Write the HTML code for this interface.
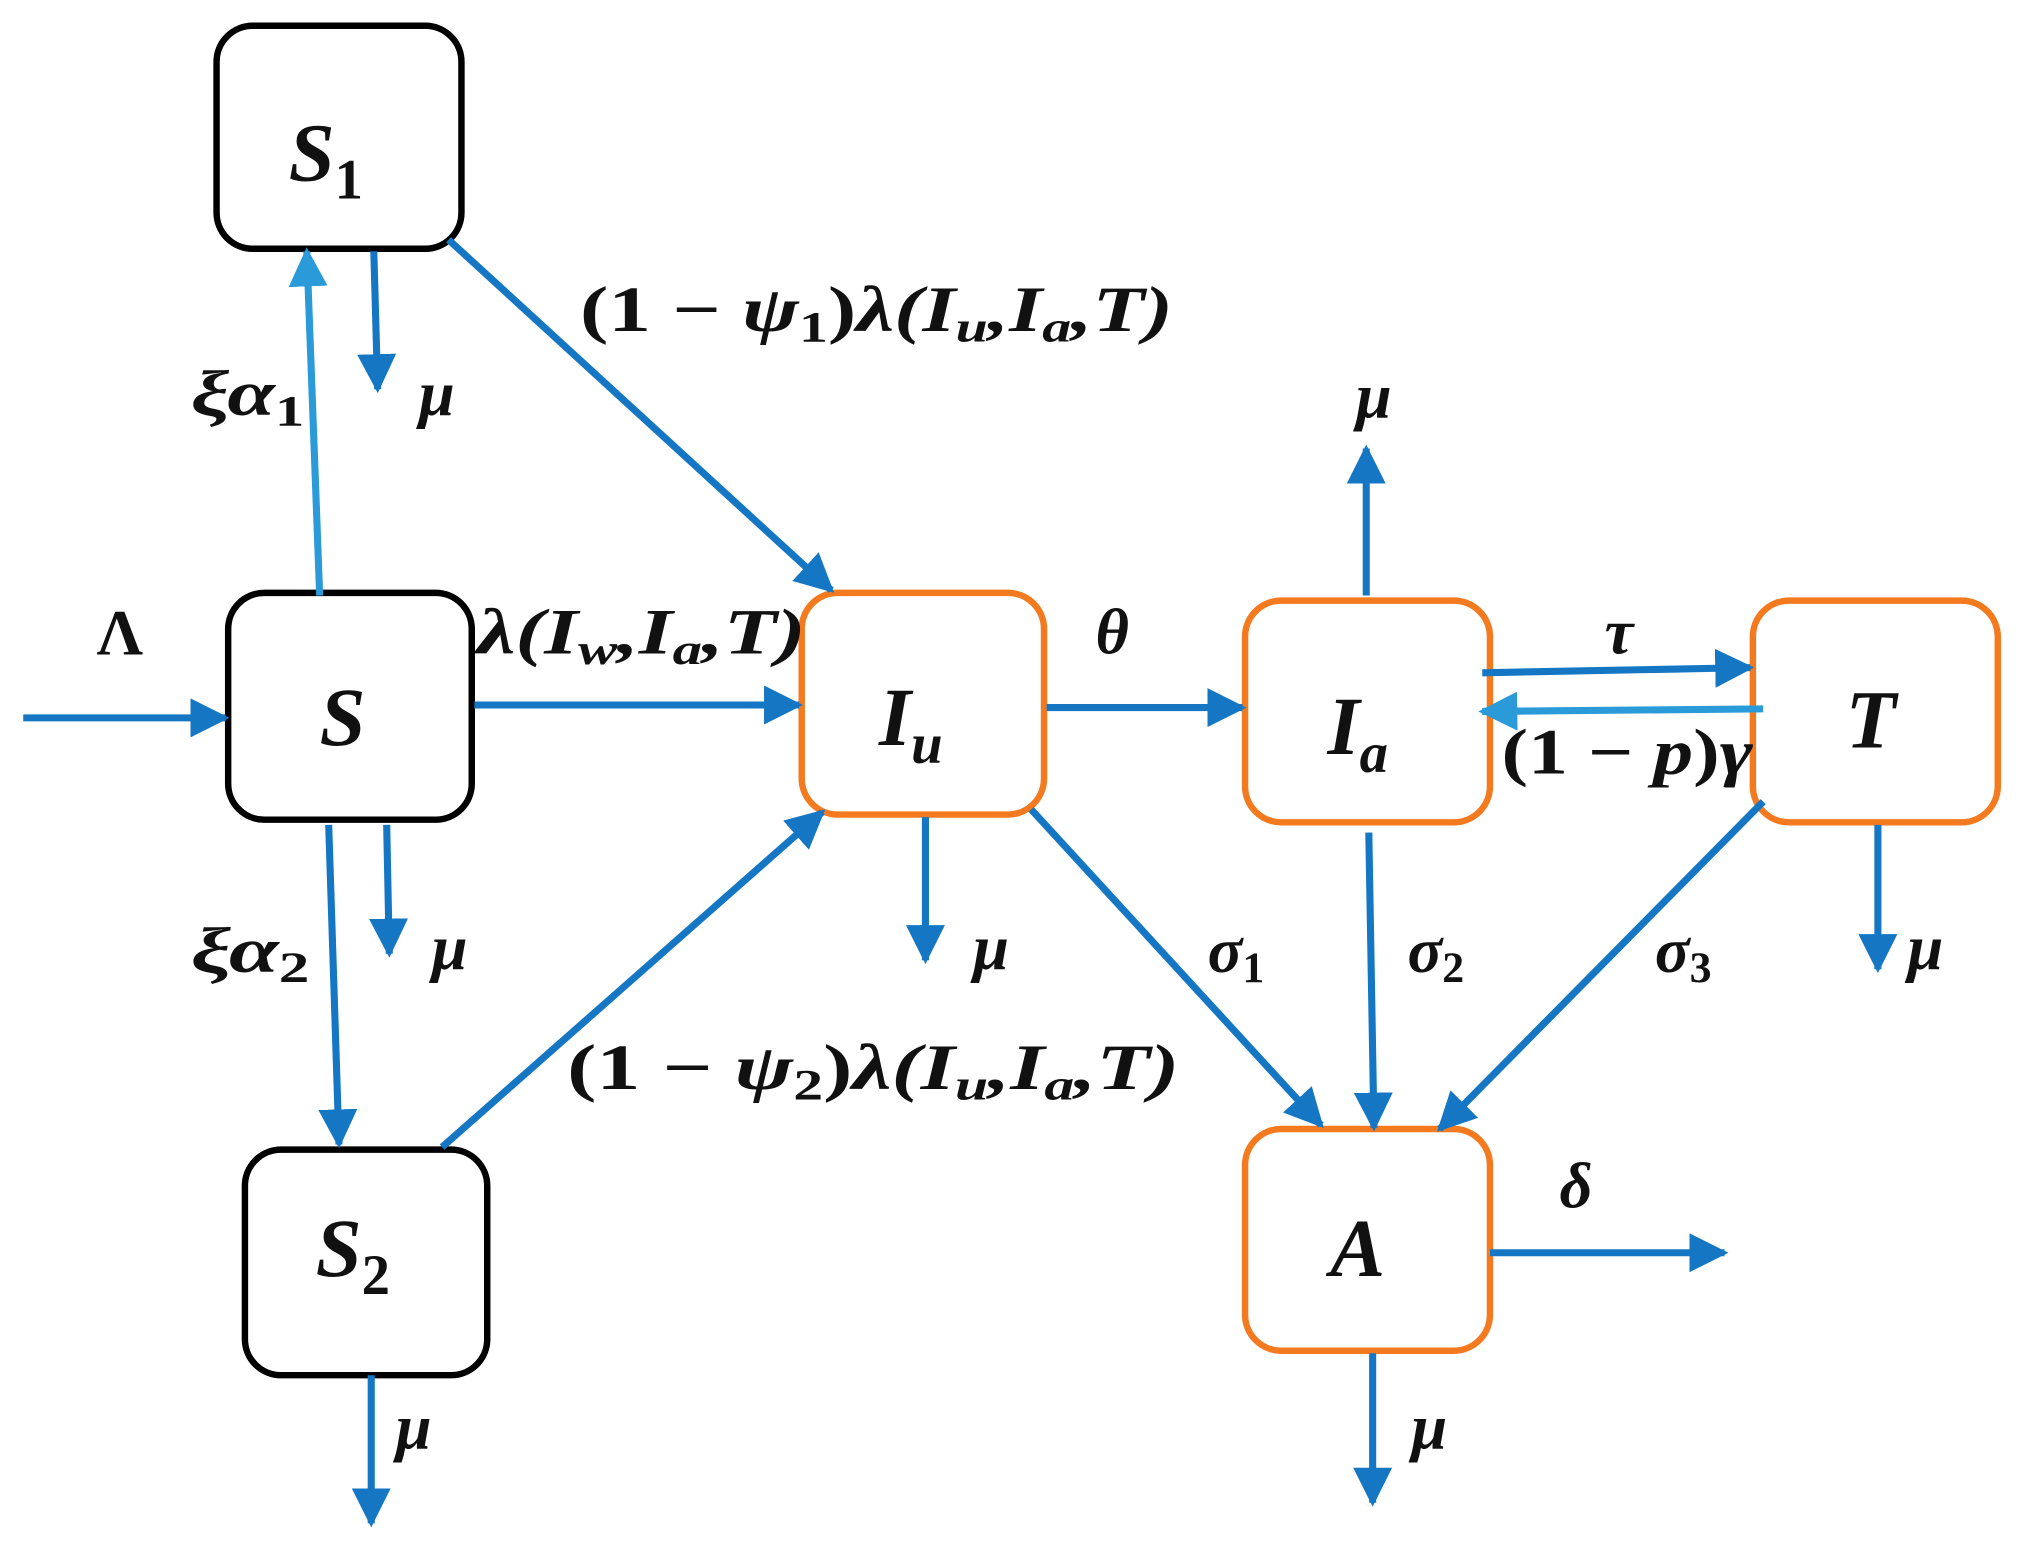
<!DOCTYPE html>
<html><head><meta charset="utf-8"><style>
html,body{margin:0;padding:0;background:#fff;}
svg{display:block;}
text{font-family:"Liberation Serif","DejaVu Serif",serif;font-weight:bold;font-style:italic;fill:#111;}
.n{font-style:normal;}
</style></head><body>
<svg width="2021" height="1555" viewBox="0 0 1568 1206.5" xmlns="http://www.w3.org/2000/svg">
<defs>
<marker id="a" viewBox="0 0 10 10" refX="9" refY="5" markerWidth="5.5" markerHeight="5.5" orient="auto" markerUnits="strokeWidth"><path d="M0,0 L10,5 L0,10 z" fill="#1577c4"/></marker>
<marker id="b" viewBox="0 0 10 10" refX="9" refY="5" markerWidth="5.5" markerHeight="5.5" orient="auto" markerUnits="strokeWidth"><path d="M0,0 L10,5 L0,10 z" fill="#2a9ad8"/></marker>
</defs>
<g fill="none" stroke-width="5">
<rect x="168" y="20" width="190" height="173" rx="28" stroke="#000"/>
<rect x="177" y="460" width="189" height="176" rx="28" stroke="#000"/>
<rect x="190" y="892" width="188" height="175" rx="28" stroke="#000"/>
<rect x="622" y="460" width="188" height="172" rx="28" stroke="#f47a20"/>
<rect x="966" y="466" width="190" height="172" rx="28" stroke="#f47a20"/>
<rect x="1360" y="466" width="190" height="172" rx="28" stroke="#f47a20"/>
<rect x="966" y="876" width="190" height="172" rx="28" stroke="#f47a20"/>
</g>
<g stroke="#1577c4" stroke-width="5.5" fill="none" marker-end="url(#a)">
<line x1="18" y1="557" x2="175" y2="557"/>
<line x1="368" y1="547" x2="620" y2="547"/>
<line x1="290" y1="195" x2="293" y2="302"/>
<line x1="348" y1="186" x2="645" y2="458"/>
<line x1="300" y1="640" x2="302" y2="740"/>
<line x1="255" y1="640" x2="263" y2="888"/>
<line x1="343" y1="890" x2="638" y2="630"/>
<line x1="288" y1="1067" x2="288" y2="1182"/>
<line x1="718" y1="634" x2="718" y2="745"/>
<line x1="812" y1="549" x2="964" y2="549"/>
<line x1="800" y1="628" x2="1025" y2="873"/>
<line x1="1060" y1="462" x2="1060" y2="348"/>
<line x1="1150" y1="522" x2="1358" y2="518"/>
<line x1="1062" y1="646" x2="1066" y2="875"/>
<line x1="1368" y1="622" x2="1117" y2="876"/>
<line x1="1457" y1="640" x2="1457" y2="752"/>
<line x1="1156" y1="972" x2="1338" y2="972"/>
<line x1="1065" y1="1050" x2="1065" y2="1166"/>
</g>
<g stroke="#2a9ad8" stroke-width="5.5" fill="none" marker-end="url(#b)">
<line x1="248" y1="462" x2="238" y2="195"/>
<line x1="1368" y1="550" x2="1150" y2="552"/>
</g>
<g font-size="64">
<text x="224" y="140">S<tspan class="n" font-size="44" dy="14">1</tspan></text>
<text x="248" y="578">S</text>
<text x="245" y="990">S<tspan class="n" font-size="44" dy="14">2</tspan></text>
<text x="682" y="578">I<tspan font-size="44" dy="14">u</tspan></text>
<text x="1030" y="585">I<tspan font-size="44" dy="14">a</tspan></text>
<text x="1432" y="580">T</text>
<text x="1032" y="990">A</text>
</g>
<g font-size="50">
<text class="n" x="75" y="508">Λ</text>
<text x="370" y="507" textLength="255" lengthAdjust="spacingAndGlyphs">λ(I<tspan font-size="34" dy="8">w</tspan><tspan dy="-8">,I</tspan><tspan font-size="34" dy="8">a</tspan><tspan dy="-8">,T)</tspan></text>
<text x="148" y="322" textLength="88" lengthAdjust="spacingAndGlyphs">ξα<tspan class="n" font-size="34" dy="8">1</tspan></text>
<text x="148" y="754" textLength="92" lengthAdjust="spacingAndGlyphs">ξα<tspan class="n" font-size="34" dy="8">2</tspan></text>
<text x="325" y="322">μ</text>
<text x="335" y="752">μ</text>
<text x="307" y="1124">μ</text>
<text x="755" y="752">μ</text>
<text x="1052" y="324">μ</text>
<text x="1480" y="752">μ</text>
<text x="1095" y="1124">μ</text>
<text x="450" y="257" textLength="460" lengthAdjust="spacingAndGlyphs"><tspan class="n">(1 − </tspan>ψ<tspan class="n" font-size="34" dy="8">1</tspan><tspan class="n" dy="-8">)</tspan>λ(I<tspan font-size="34" dy="8">u</tspan><tspan dy="-8">,I</tspan><tspan font-size="34" dy="8">a</tspan><tspan dy="-8">,T)</tspan></text>
<text x="440" y="845" textLength="475" lengthAdjust="spacingAndGlyphs"><tspan class="n">(1 − </tspan>ψ<tspan class="n" font-size="34" dy="8">2</tspan><tspan class="n" dy="-8">)</tspan>λ(I<tspan font-size="34" dy="8">u</tspan><tspan dy="-8">,I</tspan><tspan font-size="34" dy="8">a</tspan><tspan dy="-8">,T)</tspan></text>
<text x="850" y="507">θ</text>
<text x="1245" y="507">τ</text>
<text x="1165" y="600" textLength="195" lengthAdjust="spacingAndGlyphs"><tspan class="n">(1 − </tspan>p<tspan class="n">)</tspan>γ</text>
<text x="937" y="754">σ<tspan class="n" font-size="34" dy="8">1</tspan></text>
<text x="1092" y="754">σ<tspan class="n" font-size="34" dy="8">2</tspan></text>
<text x="1284" y="754">σ<tspan class="n" font-size="34" dy="8">3</tspan></text>
<text x="1210" y="937">δ</text>
</g>
</svg>
</body></html>
